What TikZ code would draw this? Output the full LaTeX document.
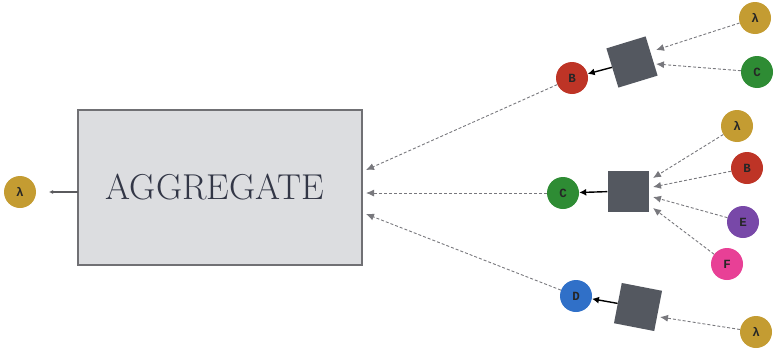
\documentclass[tikz,border=0pt]{standalone}
\usepackage{fontspec}
\newfontfamily\lblfont{Liberation Mono}
\usetikzlibrary{arrows.meta}
\definecolor{cgold}{RGB}{196,156,50}
\definecolor{cred}{RGB}{190,52,38}
\definecolor{cgreen}{RGB}{46,140,52}
\definecolor{cpurple}{RGB}{120,72,168}
\definecolor{cpink}{RGB}{232,64,150}
\definecolor{cblue}{RGB}{48,112,200}
\definecolor{csq}{RGB}{84,88,96}
\definecolor{cbox}{RGB}{220,221,224}
\definecolor{cboxline}{RGB}{112,112,116}
\definecolor{ctext}{RGB}{50,54,70}
\definecolor{cdash}{RGB}{120,120,125}
\tikzset{
  dot/.style={circle, minimum size=32pt, inner sep=0pt, fill=#1, text=black!85,
    font=\lblfont\bfseries\fontsize{12.5}{12}\selectfont},
  sq/.style={fill=csq, minimum size=41pt, inner sep=0pt},
  feed/.style={cdash, line width=0.9pt, densely dashed, -{Latex[length=8pt,width=7pt]}},
  outarrow/.style={black, line width=1.4pt, -{Latex[length=7pt,width=7pt]}},
  aggbox/.style={draw=cboxline, line width=1.5pt, fill=cbox, minimum width=284pt,
    minimum height=155pt, inner sep=0pt, text=ctext, font=\fontsize{36}{40}\selectfont}
}
\begin{document}
\begin{tikzpicture}[x=1pt,y=-1pt]
\useasboundingbox (0,0) rectangle (776,351);
\node[aggbox] (agg) at (220,187.5) {\hspace*{-10pt}AGGREGATE};
\node[dot=cgold] (lout) at (20,192) {λ};
\coordinate (aggw) at (78,192);
\coordinate (loutend) at (49,192);
\draw[cboxline!80!black, line width=1.6pt, -{Latex[length=4pt,width=4pt]}] (aggw) -- (loutend);
% top group
\node[dot=cred] (b1) at (572,78) {B};
\node[sq, rotate=17] (s1) at (632,62) {};
\node[dot=cgold] (l1) at (755,18) {λ};
\node[dot=cgreen] (c1) at (757,72) {C};
\coordinate (s1a) at (656,50);
\coordinate (s1b) at (656,64);
\draw[feed] (l1) -- (s1a);
\draw[feed] (c1) -- (s1b);
\draw[outarrow] (s1) -- (b1);
% middle group
\node[dot=cgreen] (c2) at (563,193) {C};
\node[sq] (s2) at (628,191) {};
\node[dot=cgold] (l2) at (737,126) {λ};
\node[dot=cred] (b2) at (747,168) {B};
\node[dot=cpurple] (e2) at (743,222) {E};
\node[dot=cpink] (f2) at (727,264) {F};
\coordinate (s2a) at (653,178);
\coordinate (s2b) at (653,187);
\coordinate (s2c) at (653,197);
\coordinate (s2d) at (653,208);
\draw[feed] (l2) -- (s2a);
\draw[feed] (b2) -- (s2b);
\draw[feed] (e2) -- (s2c);
\draw[feed] (f2) -- (s2d);
\draw[outarrow] (s2) -- (c2);
% bottom group
\node[dot=cblue] (d3) at (576,296) {D};
\node[sq, rotate=-11] (s3) at (638,307) {};
\node[dot=cgold] (l3) at (756,332) {λ};
\coordinate (s3a) at (660,317);
\draw[feed] (l3) -- (s3a);
\draw[outarrow] (s3) -- (d3);
% to aggregate
\coordinate (ag1) at (366,170);
\coordinate (ag2) at (366,193);
\coordinate (ag3) at (366,214);
\draw[feed] (b1) -- (ag1);
\draw[feed] (c2) -- (ag2);
\draw[feed] (d3) -- (ag3);
\end{tikzpicture}
\end{document}
